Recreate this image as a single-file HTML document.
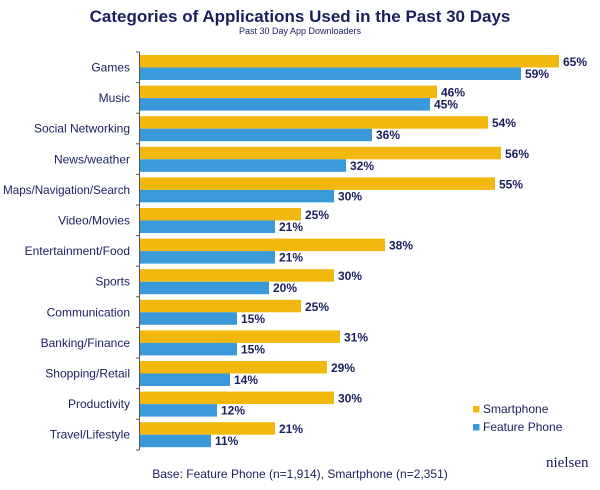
<!DOCTYPE html><html><head><style>body{margin:0;background:#fff}</style></head><body>
<svg width="600" height="485" xmlns="http://www.w3.org/2000/svg" font-family="Liberation Sans, Arial, sans-serif">
<rect width="600" height="485" fill="#fff"/>
<text x="300" y="22" text-anchor="middle" font-size="17" font-weight="bold" fill="#1a1f5c">Categories of Applications Used in the Past 30 Days</text>
<text x="300" y="34" text-anchor="middle" font-size="9" fill="#1a1f5c">Past 30 Day App Downloaders</text>
<g font-size="12" fill="#1a1f5c">
<g transform="translate(0,52)"><line x1="136" x2="139.5" stroke="#555"/><text x="130" y="19.5" text-anchor="end">Games</text><rect x="140" y="3" width="419" height="12.5" fill="#F2B80F"/><rect x="140" y="15.5" width="381" height="12.5" fill="#3A9AD9"/><text x="563" y="14" font-weight="bold">65%</text><text x="525" y="26" font-weight="bold">59%</text></g>
<g transform="translate(0,82.6)"><line x1="136" x2="139.5" stroke="#555"/><text x="130" y="19.5" text-anchor="end">Music</text><rect x="140" y="3" width="297" height="12.5" fill="#F2B80F"/><rect x="140" y="15.5" width="290" height="12.5" fill="#3A9AD9"/><text x="441" y="14" font-weight="bold">46%</text><text x="434" y="26" font-weight="bold">45%</text></g>
<g transform="translate(0,113.2)"><line x1="136" x2="139.5" stroke="#555"/><text x="130" y="19.5" text-anchor="end">Social Networking</text><rect x="140" y="3" width="348" height="12.5" fill="#F2B80F"/><rect x="140" y="15.5" width="232" height="12.5" fill="#3A9AD9"/><text x="492" y="14" font-weight="bold">54%</text><text x="376" y="26" font-weight="bold">36%</text></g>
<g transform="translate(0,143.8)"><line x1="136" x2="139.5" stroke="#555"/><text x="130" y="19.5" text-anchor="end">News/weather</text><rect x="140" y="3" width="361" height="12.5" fill="#F2B80F"/><rect x="140" y="15.5" width="206" height="12.5" fill="#3A9AD9"/><text x="505" y="14" font-weight="bold">56%</text><text x="350" y="26" font-weight="bold">32%</text></g>
<g transform="translate(0,174.4)"><line x1="136" x2="139.5" stroke="#555"/><text x="130" y="19.5" text-anchor="end" textLength="127" lengthAdjust="spacingAndGlyphs">Maps/Navigation/Search</text><rect x="140" y="3" width="355" height="12.5" fill="#F2B80F"/><rect x="140" y="15.5" width="194" height="12.5" fill="#3A9AD9"/><text x="499" y="14" font-weight="bold">55%</text><text x="338" y="26" font-weight="bold">30%</text></g>
<g transform="translate(0,205)"><line x1="136" x2="139.5" stroke="#555"/><text x="130" y="19.5" text-anchor="end">Video/Movies</text><rect x="140" y="3" width="161" height="12.5" fill="#F2B80F"/><rect x="140" y="15.5" width="135" height="12.5" fill="#3A9AD9"/><text x="305" y="14" font-weight="bold">25%</text><text x="279" y="26" font-weight="bold">21%</text></g>
<g transform="translate(0,235.6)"><line x1="136" x2="139.5" stroke="#555"/><text x="130" y="19.5" text-anchor="end">Entertainment/Food</text><rect x="140" y="3" width="245" height="12.5" fill="#F2B80F"/><rect x="140" y="15.5" width="135" height="12.5" fill="#3A9AD9"/><text x="389" y="14" font-weight="bold">38%</text><text x="279" y="26" font-weight="bold">21%</text></g>
<g transform="translate(0,266.2)"><line x1="136" x2="139.5" stroke="#555"/><text x="130" y="19.5" text-anchor="end">Sports</text><rect x="140" y="3" width="194" height="12.5" fill="#F2B80F"/><rect x="140" y="15.5" width="129" height="12.5" fill="#3A9AD9"/><text x="338" y="14" font-weight="bold">30%</text><text x="273" y="26" font-weight="bold">20%</text></g>
<g transform="translate(0,296.8)"><line x1="136" x2="139.5" stroke="#555"/><text x="130" y="19.5" text-anchor="end">Communication</text><rect x="140" y="3" width="161" height="12.5" fill="#F2B80F"/><rect x="140" y="15.5" width="97" height="12.5" fill="#3A9AD9"/><text x="305" y="14" font-weight="bold">25%</text><text x="241" y="26" font-weight="bold">15%</text></g>
<g transform="translate(0,327.4)"><line x1="136" x2="139.5" stroke="#555"/><text x="130" y="19.5" text-anchor="end">Banking/Finance</text><rect x="140" y="3" width="200" height="12.5" fill="#F2B80F"/><rect x="140" y="15.5" width="97" height="12.5" fill="#3A9AD9"/><text x="344" y="14" font-weight="bold">31%</text><text x="241" y="26" font-weight="bold">15%</text></g>
<g transform="translate(0,358)"><line x1="136" x2="139.5" stroke="#555"/><text x="130" y="19.5" text-anchor="end">Shopping/Retail</text><rect x="140" y="3" width="187" height="12.5" fill="#F2B80F"/><rect x="140" y="15.5" width="90" height="12.5" fill="#3A9AD9"/><text x="331" y="14" font-weight="bold">29%</text><text x="234" y="26" font-weight="bold">14%</text></g>
<g transform="translate(0,388.6)"><line x1="136" x2="139.5" stroke="#555"/><text x="130" y="19.5" text-anchor="end">Productivity</text><rect x="140" y="3" width="194" height="12.5" fill="#F2B80F"/><rect x="140" y="15.5" width="77" height="12.5" fill="#3A9AD9"/><text x="338" y="14" font-weight="bold">30%</text><text x="221" y="26" font-weight="bold">12%</text></g>
<g transform="translate(0,419.2)"><line x1="136" x2="139.5" stroke="#555"/><text x="130" y="19.5" text-anchor="end">Travel/Lifestyle</text><rect x="140" y="3" width="135" height="12.5" fill="#F2B80F"/><rect x="140" y="15.5" width="71" height="12.5" fill="#3A9AD9"/><text x="279" y="14" font-weight="bold">21%</text><text x="215" y="26" font-weight="bold">11%</text></g>
</g>
<line x1="136" y1="450" x2="139.5" y2="450" stroke="#555"/>
<line x1="139.5" y1="52" x2="139.5" y2="450" stroke="#555" stroke-width="1"/>
<rect x="473" y="406" width="6.5" height="6.5" fill="#F2B80F"/>
<text x="483" y="413" font-size="12" fill="#1a1f5c">Smartphone</text>
<rect x="473" y="424" width="6.5" height="6.5" fill="#3A9AD9"/>
<text x="483" y="431" font-size="12" fill="#1a1f5c">Feature Phone</text>
<text x="300" y="478" text-anchor="middle" font-size="12" fill="#1a1f5c">Base: Feature Phone (n=1,914), Smartphone (n=2,351)</text>
<text x="546" y="467" font-size="15" font-family="Liberation Serif, serif" fill="#1a1f5c">nielsen</text>
</svg></body></html>
